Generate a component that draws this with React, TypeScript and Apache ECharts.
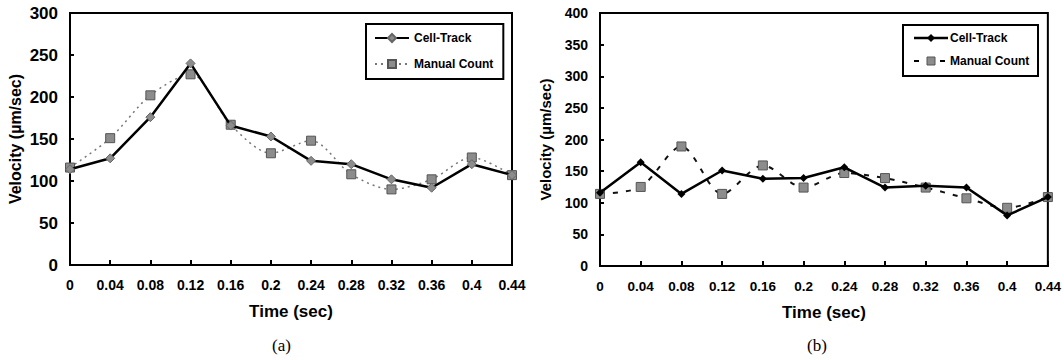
import React, { useEffect, useRef } from "react";
import * as echarts from "echarts";

const times = ["0", "0.04", "0.08", "0.12", "0.16", "0.2", "0.24", "0.28", "0.32", "0.36", "0.4", "0.44"];
const cellTrackA = [114, 127, 176, 240, 166, 153, 124, 120, 102, 92, 120, 107];
const manualA = [116, 151, 202, 227, 167, 133, 148, 108, 90, 102, 128, 107];
const cellTrackB = [116, 164, 114, 151, 138, 139, 156, 124, 127, 124, 80, 109];
const manualB = [114, 125, 189, 114, 159, 124, 147, 139, 124, 107, 92, 109];
const yMaxA = 300;
const yMaxB = 400;
const yStep = 50;

const FONT = "'Liberation Sans', Arial, sans-serif";

export default function App() {
  const ref = useRef<HTMLDivElement>(null);
  useEffect(() => {
    if (!ref.current) return;
    const chart = echarts.init(ref.current, null, { renderer: "svg" });
    const xAxisCommon = (gridIndex: number, fontSize: number) => ({
      type: "category",
      gridIndex,
      data: times,
      boundaryGap: false,
      name: "Time (sec)",
      nameLocation: "middle",
      nameGap: 38,
      nameTextStyle: { fontFamily: FONT, fontWeight: "bold", fontSize: 17, color: "#000" },
      axisLine: { lineStyle: { color: "#000", width: 2 } },
      axisTick: { inside: true, length: 5, lineStyle: { color: "#000", width: 2 } },
      axisLabel: { fontFamily: FONT, fontWeight: "bold", fontSize, color: "#000", margin: 13 },
      splitLine: { show: false },
    });
    const yAxisCommon = (gridIndex: number, max: number, fontSize: number, nameSize: number) => ({
      type: "value",
      gridIndex,
      min: 0,
      max,
      interval: yStep,
      name: "Velocity (\u00b5m/sec)",
      nameLocation: "middle",
      nameGap: 47,
      nameRotate: 90,
      nameTextStyle: { fontFamily: FONT, fontWeight: "bold", fontSize: nameSize, color: "#000" },
      axisLine: { show: true, lineStyle: { color: "#000", width: 2 } },
      axisTick: { show: true, inside: true, length: 4, lineStyle: { color: "#000", width: 2 } },
      axisLabel: { fontFamily: FONT, fontWeight: "bold", fontSize, color: "#000", margin: 12 },
      splitLine: { show: false },
    });
    chart.setOption({
      animation: false,
      backgroundColor: "#fff",
      grid: [
        { left: 70, top: 13, width: 442, height: 252, show: true, borderColor: "#000", borderWidth: 2, backgroundColor: "transparent" },
        { left: 600, top: 13, width: 450, height: 253, show: true, borderColor: "#000", borderWidth: 2, backgroundColor: "transparent" },
      ],
      xAxis: [xAxisCommon(0, 14), xAxisCommon(1, 13.5)],
      yAxis: [yAxisCommon(0, yMaxA, 17, 16), yAxisCommon(1, yMaxB, 14, 15)],
      legend: [
        {
          left: 366,
          top: 24,
          orient: "vertical",
          borderColor: "#000",
          borderWidth: 2,
          padding: [8, 10, 9, 8],
          itemGap: 14,
          itemWidth: 34,
          itemHeight: 10,
          textStyle: { fontFamily: FONT, fontSize: 12, fontWeight: "bold", color: "#000" },
          data: ["Cell-Track", "Manual Count"].map((n) => ({ name: n })),
          seriesIndex: [0, 1],
        },
      ],
      graphic: [
        { type: "text", left: 272, top: 337, style: { text: "(a)", font: "17px 'Liberation Serif', 'Times New Roman', serif", fill: "#000" } },
        { type: "text", left: 807, top: 337, style: { text: "(b)", font: "17px 'Liberation Serif', 'Times New Roman', serif", fill: "#000" } },
        // legend (b) box
        { type: "rect", shape: { x: 903, y: 25, width: 135, height: 51 }, style: { fill: "#fff", stroke: "#000", lineWidth: 2 }, z: 10 },
        { type: "line", shape: { x1: 914, y1: 38, x2: 948, y2: 38 }, style: { stroke: "#000", lineWidth: 2.5 }, z: 11 },
        { type: "polygon", shape: { points: [[931, 34], [935, 38], [931, 42], [927, 38]] }, style: { fill: "#000" }, z: 11 },
        { type: "text", x: 950, y: 38, style: { text: "Cell-Track", font: "bold 12px 'Liberation Sans', Arial, sans-serif", fill: "#000", verticalAlign: "middle" }, z: 11 },
        { type: "line", shape: { x1: 914, y1: 61, x2: 948, y2: 61 }, style: { stroke: "#000", lineWidth: 2, lineDash: [5, 8] }, z: 11 },
        { type: "rect", shape: { x: 927, y: 57, width: 8, height: 8 }, style: { fill: "#8c8c8c", stroke: "#555", lineWidth: 1 }, z: 11 },
        { type: "text", x: 950, y: 61, style: { text: "Manual Count", font: "bold 12px 'Liberation Sans', Arial, sans-serif", fill: "#000", verticalAlign: "middle" }, z: 11 },
      ],
      series: [
        {
          name: "Cell-Track",
          type: "line",
          xAxisIndex: 0,
          yAxisIndex: 0,
          data: cellTrackA,
          symbol: "diamond",
          symbolSize: 9,
          z: 3,
          lineStyle: { color: "#000", width: 2.5 },
          itemStyle: { color: "#8c8c8c", borderColor: "#666", borderWidth: 1 },
        },
        {
          name: "Manual Count",
          type: "line",
          xAxisIndex: 0,
          yAxisIndex: 0,
          data: manualA,
          smooth: 0.3,
          symbol: "rect",
          symbolSize: 9,
          z: 2,
          lineStyle: { color: "#777", width: 1.5, type: [2, 4] },
          itemStyle: { color: "#8c8c8c", borderColor: "#555", borderWidth: 1 },
        },
        {
          name: "Cell-Track B",
          type: "line",
          xAxisIndex: 1,
          yAxisIndex: 1,
          data: cellTrackB,
          symbol: "diamond",
          symbolSize: 8,
          z: 3,
          lineStyle: { color: "#000", width: 2.5 },
          itemStyle: { color: "#000" },
        },
        {
          name: "Manual Count B",
          type: "line",
          xAxisIndex: 1,
          yAxisIndex: 1,
          data: manualB,
          smooth: 0.3,
          symbol: "rect",
          symbolSize: 9,
          z: 2,
          lineStyle: { color: "#111", width: 2, type: [5, 8] },
          itemStyle: { color: "#8c8c8c", borderColor: "#555", borderWidth: 1 },
        },
      ],
    });
    return () => chart.dispose();
  }, []);
  return <div ref={ref} style={{ width: 1064, height: 360, position: "absolute", left: 0, top: 0 }} />;
}
